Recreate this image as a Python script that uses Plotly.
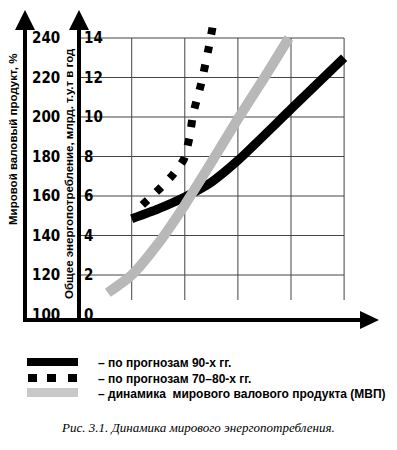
import plotly.graph_objects as go

# ---------------- data ----------------
years_ticks = [1970, 1980, 1990, 2000, 2010, 2020]
energy_ticks = [0, 2, 4, 6, 8, 10, 12, 14]
gdp_ticks = [100, 120, 140, 160, 180, 200, 220, 240]

# forecasts of the 90s (energy, bln t.c.e.)
f90_years = [1980, 1985, 1990, 1995, 2000, 2010, 2020]
f90_vals = [4.85, 5.35, 5.95, 6.7, 7.8, 10.4, 13.0]

# forecasts of the 70-80s (energy)
f7080_years = [1982.0, 1985.0, 1987.5, 1989.8, 1990.9, 1991.6, 1993.0, 1994.5, 1995.4]
f7080_vals = [5.55, 6.3, 7.0, 7.85, 9.0, 10.2, 11.6, 13.5, 14.8]

# world gross product, %
gdp_years = [1975.5, 1980, 1985, 1990, 1995, 2000, 2005, 2009.6]
gdp_vals = [111, 120, 136, 155.5, 177, 199, 220, 240]

# ---------------- geometry helpers (pixel -> data) ----------------
PX_PER_YEAR = 5.31
X0 = 1970 - 78.6 / PX_PER_YEAR
X1 = X0 + 397 / PX_PER_YEAR
PX_PER_UNIT = 19.75
ZERO_PY = 314.5
PLOT_H = 330
Y1 = ZERO_PY / PX_PER_UNIT
Y0 = (ZERO_PY - PLOT_H) / PX_PER_UNIT


def X(px):
    return X0 + px / PX_PER_YEAR


def Y(py):
    return (ZERO_PY - py) / PX_PER_UNIT


def PY(py):  # paper y from pixel y (plot area = 0..330 px)
    return 1 - py / PLOT_H


def PX(px):
    return px / 397


BOLD = "Liberation Sans Narrow, DejaVu Sans Condensed, Arial Narrow, Liberation Sans, Arial, sans-serif"
SANS = "Liberation Sans, Arial, DejaVu Sans, sans-serif"

fig = go.Figure()

# gross product (gray, on % axis)
fig.add_trace(go.Scatter(x=gdp_years, y=gdp_vals, yaxis="y2", mode="lines",
                         line=dict(color="#b8b8b8", width=10, shape="spline", smoothing=0.6),
                         hoverinfo="skip"))
# 70-80s forecast (dotted squares)
fig.add_trace(go.Scatter(x=f7080_years, y=f7080_vals, mode="lines",
                         line=dict(color="black", width=8, dash="7px,12px", shape="spline", smoothing=0.6),
                         hoverinfo="skip"))
# 90s forecast (solid)
fig.add_trace(go.Scatter(x=f90_years, y=f90_vals, mode="lines",
                         line=dict(color="black", width=9, shape="spline", smoothing=0.6),
                         hoverinfo="skip"))

shapes = []
# grid
for v in energy_ticks[1:]:
    shapes.append(dict(type="line", xref="x", yref="y", x0=1970, x1=2020, y0=v, y1=v,
                       line=dict(color="#444", width=1), layer="below"))
for yr in years_ticks[1:]:
    shapes.append(dict(type="line", xref="x", yref="y", x0=yr, x1=yr, y0=Y(300), y1=14,
                       line=dict(color="#444", width=1), layer="below"))

# axes lines
ax_y_py = 320
for axpx in (25, 79):
    shapes.append(dict(type="line", xref="x", yref="y", x0=X(axpx), x1=X(axpx),
                       y0=Y(ax_y_py + 2), y1=Y(25), line=dict(color="black", width=4)))
    shapes.append(dict(type="path", xref="x", yref="y",
                       path=f"M {X(axpx - 10)},{Y(30)} L {X(axpx)},{Y(10)} L {X(axpx + 10)},{Y(30)} Z",
                       fillcolor="black", line=dict(color="black", width=0)))
shapes.append(dict(type="line", xref="x", yref="y", x0=X(23), x1=X(362),
                   y0=Y(ax_y_py), y1=Y(ax_y_py), line=dict(color="black", width=4)))
shapes.append(dict(type="path", xref="x", yref="y",
                   path=f"M {X(360)},{Y(311)} L {X(379)},{Y(320)} L {X(360)},{Y(329)} Z",
                   fillcolor="black", line=dict(color="black", width=0)))

# legend swatches
shapes.append(dict(type="rect", xref="paper", yref="paper", x0=PX(27), x1=PX(78),
                   y0=PY(366), y1=PY(358), fillcolor="black", line=dict(width=0)))
for a, b in [(28, 37), (47, 56), (68, 77)]:
    shapes.append(dict(type="rect", xref="paper", yref="paper", x0=PX(a), x1=PX(b),
                       y0=PY(382), y1=PY(374), fillcolor="black", line=dict(width=0)))
shapes.append(dict(type="rect", xref="paper", yref="paper", x0=PX(27), x1=PX(78),
                   y0=PY(397), y1=PY(388), fillcolor="#c8c8c8", line=dict(width=0)))

annotations = []
tick_font = dict(family=BOLD, size=15, color="black")
for v, g in zip(energy_ticks, gdp_ticks):
    annotations.append(dict(x=1970, y=v, xref="x", yref="y", text=f"<b>{v}</b>", showarrow=False,
                            xanchor="left", yanchor="middle", xshift=3, font=tick_font))
    annotations.append(dict(x=X(25), y=v, xref="x", yref="y", text=f"<b>{g}</b>", showarrow=False,
                            xanchor="left", yanchor="middle", xshift=5, font=tick_font))
for yr in years_ticks:
    annotations.append(dict(x=yr, y=Y(333), xref="x", yref="y", text=f"<b>{yr}</b>", showarrow=False,
                            xanchor="center", yanchor="middle", font=tick_font))

annotations.append(dict(x=X(13), y=Y(140), xref="x", yref="y", text="<b>Мировой валовый продукт, %</b>",
                        showarrow=False, textangle=-90, xanchor="center", yanchor="middle",
                        font=dict(family=SANS, size=11.5, color="black")))
annotations.append(dict(x=X(69), y=Y(174), xref="x", yref="y",
                        text="<b>Общее энергопотребление, млрд. т.у.т в год</b>",
                        showarrow=False, textangle=-90, xanchor="center", yanchor="middle",
                        font=dict(family=SANS, size=11.5, color="black")))

legend_texts = ["– по прогнозам 90-х гг.", "– по прогнозам 70–80-х гг.",
                "– динамика  мирового валового продукта (МВП)"]
for t, py in zip(legend_texts, [363, 379, 394]):
    annotations.append(dict(x=PX(96), y=PY(py), xref="paper", yref="paper", text=f"<b>{t}</b>",
                            showarrow=False, xanchor="left", yanchor="middle",
                            font=dict(family=SANS, size=12, color="black")))

annotations.append(dict(x=PX(197.5), y=PY(427), xref="paper", yref="paper",
                        text="<i>Рис. 3.1. Динамика мирового энергопотребления.</i>",
                        showarrow=False, xanchor="center", yanchor="middle",
                        font=dict(family="Liberation Serif, Times New Roman, serif", size=13, color="black")))

fig.update_layout(
    width=397, height=450,
    margin=dict(l=0, r=0, t=0, b=120),
    paper_bgcolor="white", plot_bgcolor="white",
    showlegend=False,
    xaxis=dict(range=[X0, X1], visible=False, fixedrange=True),
    yaxis=dict(range=[Y0, Y1], visible=False, fixedrange=True),
    yaxis2=dict(range=[100 + 10 * Y0, 100 + 10 * Y1], overlaying="y", visible=False, fixedrange=True),
    shapes=shapes,
    annotations=annotations,
)

fig.write_html("out.html", config={"displayModeBar": False},
               post_script="document.body.style.margin='0';document.body.style.overflow='hidden';")
